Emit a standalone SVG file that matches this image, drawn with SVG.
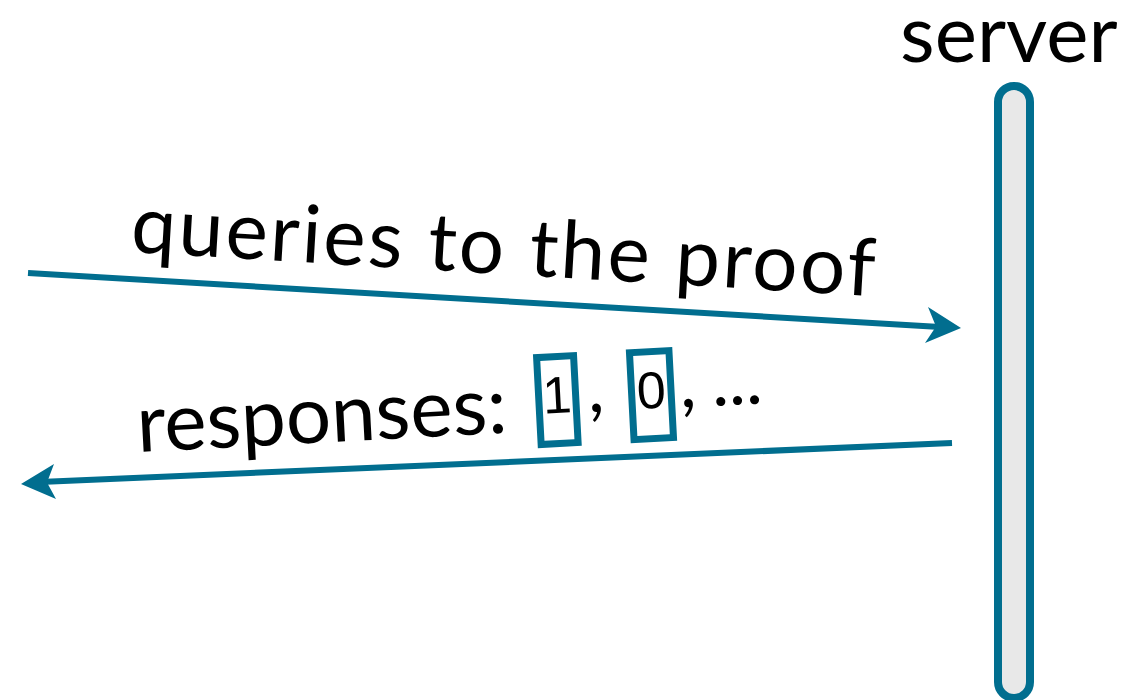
<svg xmlns="http://www.w3.org/2000/svg" width="1146" height="700" viewBox="0 0 1146 700">
  <style>
    .lbl { font-family: Lato, "Open Sans", sans-serif; font-size: 80px; fill: #000; }
    .dig { font-family: "Liberation Sans", Arial, sans-serif; font-size: 52px; fill: #000; text-anchor: middle; }
    .wire { stroke: #016E8F; stroke-width: 6; fill: none; }
    .head { fill: #016E8F; }
    .cell { fill: none; stroke: #016E8F; stroke-width: 7; }
  </style>
  <rect width="1146" height="700" fill="#fff"/>

  <!-- server -->
  <g id="server">
    <text class="lbl" x="900" y="62">server</text>
    <rect x="998" y="86" width="32" height="612" rx="16" fill="#E8E8E8" stroke="#016E8F" stroke-width="8"/>
  </g>

  <!-- messages -->
  <g id="connectors">
    <line class="wire" x1="28" y1="273" x2="940" y2="327"/>
    <polygon class="head" points="961,328 928,307 936,326.5 925,343"/>
    <line class="wire" x1="952" y1="443" x2="40" y2="482"/>
    <polygon class="head" points="21,484 54,464 47,482.5 56,499"/>
  </g>

  <g id="query-label">
    <text class="lbl" x="130" y="252" transform="rotate(3.4 130 252)" textLength="745" lengthAdjust="spacing">queries to the proof</text>
  </g>

  <g id="response-label" transform="rotate(-3 140 452)">
    <text class="lbl" x="138" y="452">responses:</text>
    <rect class="cell" x="541" y="378.5" width="37" height="87"/>
    <text class="dig" x="559.5" y="435">1</text>
    <text class="lbl" x="590" y="436" style="font-size:72px">,</text>
    <rect class="cell" x="634" y="378.5" width="39.5" height="87"/>
    <text class="dig" x="653.8" y="435">0</text>
    <text class="lbl" x="682" y="436" style="font-size:72px">,</text>
    <text class="lbl" x="714" y="436" style="font-size:72px">...</text>
  </g>
</svg>
